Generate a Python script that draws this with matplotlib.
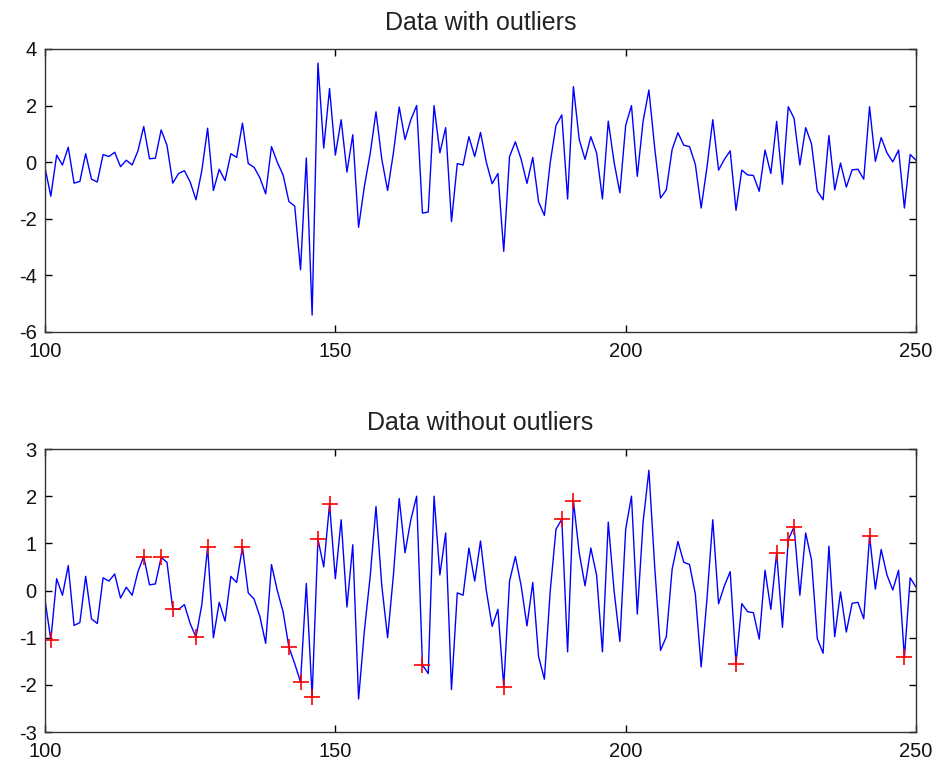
import numpy as np
import matplotlib.pyplot as plt

plt.rcParams['font.family'] = ['Liberation Sans', 'DejaVu Sans']
plt.rcParams['axes.unicode_minus'] = False

# x positions and raw signal
x = np.arange(100, 251)
y_raw = np.array([
    -0.2, -1.2, 0.25, -0.1, 0.53, -0.74, -0.68, 0.3, -0.6, -0.7,
    0.27, 0.2, 0.35, -0.16, 0.07, -0.1, 0.4, 1.26, 0.12, 0.14,
    1.14, 0.6, -0.74, -0.4, -0.3, -0.7, -1.33, -0.3, 1.2, -1.0,
    -0.25, -0.65, 0.3, 0.17, 1.38, -0.05, -0.18, -0.55, -1.12, 0.55,
    0.0, -0.45, -1.39, -1.55, -3.8, 0.15, -5.4, 3.5, 0.5, 2.6,
    0.25, 1.5, -0.35, 0.97, -2.3, -0.85, 0.3, 1.78, 0.1, -1.0,
    0.33, 1.95, 0.8, 1.5, 2.0, -1.8, -1.76, 2.0, 0.33, 1.22,
    -2.1, -0.05, -0.1, 0.9, 0.2, 1.05, 0.0, -0.76, -0.4, -3.15,
    0.2, 0.72, 0.1, -0.75, 0.17, -1.4, -1.88, -0.02, 1.3, 1.67,
    -1.3, 2.67, 0.8, 0.1, 0.9, 0.32, -1.3, 1.45, 0.0, -1.08,
    1.3, 2.0, -0.5, 1.45, 2.55, 0.5, -1.27, -0.98, 0.45, 1.04,
    0.6, 0.55, -0.08, -1.62, -0.18, 1.5, -0.28, 0.1, 0.4, -1.7,
    -0.28, -0.45, -0.47, -1.03, 0.43, -0.4, 1.44, -0.78, 1.96, 1.55,
    -0.1, 1.22, 0.65, -1.02, -1.33, 0.94, -0.98, -0.03, -0.88, -0.27,
    -0.25, -0.6, 1.96, 0.03, 0.87, 0.33, 0.01, 0.43, -1.62, 0.27,
    0.07,
])

# outliers found and the values they were replaced with
outlier_x = np.array([101, 117, 120, 122, 126, 128, 134, 142, 144, 146, 147,
                      149, 165, 179, 189, 191, 219, 226, 228, 229, 242, 248])
outlier_new = np.array([-1.05, 0.72, 0.7, -0.39, -0.99, 0.92, 0.92, -1.2, -1.94,
                        -2.25, 1.09, 1.83, -1.58, -2.04, 1.51, 1.9, -1.55, 0.8,
                        1.08, 1.35, 1.16, -1.42])

y_clean = y_raw.copy()
y_clean[outlier_x - x[0]] = outlier_new

fig = plt.figure(figsize=(9.42, 7.69), dpi=100)
ax1 = fig.add_axes([0.0478, 0.5683, 0.9246, 0.368])
ax2 = fig.add_axes([0.0478, 0.0481, 0.9246, 0.368])

ax1.plot(x, y_raw, color='blue', lw=1)
ax1.set_ylim(-6, 4)
ax1.set_yticks([-6, -4, -2, 0, 2, 4])
ax1.set_title('Data with outliers', fontsize=18, pad=14, color='#222222')

ax2.plot(x, y_clean, color='blue', lw=1)
ax2.plot(outlier_x, outlier_new, 'r+', ms=11, mew=1.2)
ax2.set_ylim(-3, 3)
ax2.set_yticks([-3, -2, -1, 0, 1, 2, 3])
ax2.set_title('Data without outliers', fontsize=18, pad=14, color='#222222')

for ax in (ax1, ax2):
    ax.set_xlim(100, 250)
    ax.set_xticks([100, 150, 200, 250])
    ax.tick_params(direction='in', top=True, right=True, length=5,
                   labelsize=14.5, width=1, labelcolor='#111111')
    ax.tick_params(axis='x', pad=7)
    ax.tick_params(axis='y', pad=6)
    for s in ax.spines.values():
        s.set_linewidth(1)
        s.set_color('#333333')

fig.savefig('out.png')
